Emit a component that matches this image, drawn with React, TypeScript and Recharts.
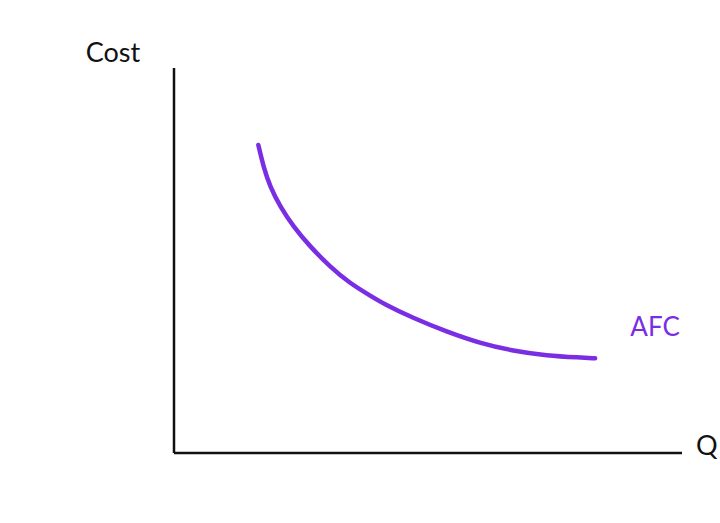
import { LineChart, Line, XAxis, YAxis, Label, ReferenceDot } from 'recharts';

const quantity = [16.6, 17.6, 18.9, 20.9, 23.5, 26.8, 30.7, 34.6, 38.6, 41.2, 47.1, 53.7, 60.2, 66.8, 73.4, 79.9, 82.9];
const afcCost = [80.0, 74.4, 69.2, 64.0, 58.8, 53.6, 48.4, 44.1, 40.9, 38.8, 35.0, 31.5, 28.5, 26.5, 25.3, 24.8, 24.6];

const data = quantity.map((q, i) => ({ q, afc: afcCost[i] }));

const PURPLE = '#7a2ee3';
const FONT = 'Lato, "Noto Sans", sans-serif';

export default function App() {
  return (
    <div style={{ position: 'absolute', left: 0, top: 0, background: '#fff' }}>
      <LineChart
        width={720}
        height={523}
        data={data}
        margin={{ top: 68, right: 38, bottom: 68, left: 172 }}
      >
        <XAxis
          type="number"
          dataKey="q"
          domain={[0, 100]}
          height={2}
          tick={false}
          tickLine={false}
          axisLine={{ stroke: '#111', strokeWidth: 2.5 }}
        >
          <Label
            value="Q"
            position="right"
            offset={14}
            dy={-9}
            style={{ fontFamily: FONT, fontSize: 27, fill: '#111' }}
          />
        </XAxis>
        <YAxis
          type="number"
          domain={[0, 100]}
          width={2}
          tick={false}
          tickLine={false}
          axisLine={{ stroke: '#111', strokeWidth: 2.5 }}
        />
        <ReferenceDot x={0} y={100} r={0} fill="none" stroke="none">
          <Label
            value="Cost"
            position="top"
            offset={6}
            dx={-61}
            style={{ fontFamily: FONT, fontSize: 27, fill: '#111' }}
          />
        </ReferenceDot>
        <ReferenceDot x={94.7} y={32.7} r={0} fill="none" stroke="none">
          <Label
            value="AFC"
            position="center"
            style={{ fontFamily: FONT, fontSize: 26, fill: PURPLE }}
          />
        </ReferenceDot>
        <Line
          type="basis"
          dataKey="afc"
          stroke={PURPLE}
          strokeWidth={4.5}
          strokeLinecap="round"
          dot={false}
          isAnimationActive={false}
        />
      </LineChart>
    </div>
  );
}
